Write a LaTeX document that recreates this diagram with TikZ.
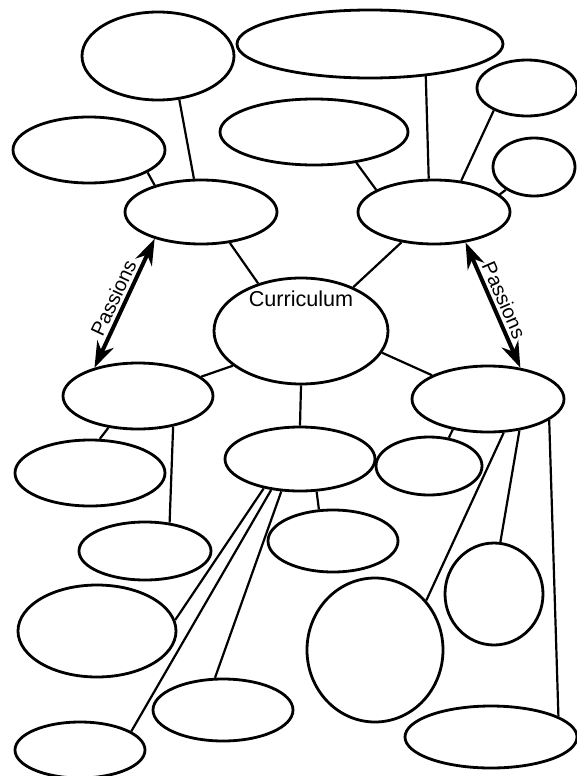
\documentclass[tikz,border=0pt]{standalone}
\usepackage{fontspec}
\setmainfont{Liberation Sans}
\usepackage{tikz}
\usetikzlibrary{shapes.geometric,arrows.meta}
\tikzset{
  bub/.style={draw,ellipse,line width=1.4pt,inner sep=0pt,fill=white},
  sz/.style 2 args={minimum width=#1*.5pt,minimum height=#2*.5pt},
  lnk/.style={line width=1.1pt},
  dbl/.style={{Stealth[length=13pt,width=9pt]}-{Stealth[length=13pt,width=9pt]},line width=2pt}
}

\begin{document}
\begin{tikzpicture}[x=.5pt,y=-.5pt]
  \useasboundingbox (0,0) rectangle (577,776);
  % top row
  \node[bub,sz={152}{88}]  (tl) at (158,56)  {};
  \node[bub,sz={266}{68}]  (tw) at (370,44)  {};
  \node[bub,sz={152}{66}]  (lw) at (89,150)  {};
  \node[bub,sz={188}{66}]  (mt) at (314,132) {};
  \node[bub,sz={100}{56}]  (rt) at (527,88)  {};
  \node[bub,sz={82}{58}]   (rs) at (534,167) {};
  % hubs
  \node[bub,sz={152}{64}]  (nw) at (201,212) {};
  \node[bub,sz={152}{64}]  (ne) at (434,212) {};
  \node[bub,sz={174}{106},
        label={[font=\fontsize{10.8}{12}\selectfont,inner sep=0pt,label distance=-15.5pt]90:Curriculum}]
        (cur) at (301,331) {};
  \node[bub,sz={150}{66}]  (sw) at (138,396) {};
  \node[bub,sz={152}{66}]  (se) at (488,399) {};
  \node[bub,sz={150}{64}]  (cs) at (300,459) {};
  % lower bubbles
  \node[bub,sz={150}{66}]  (sw1) at (90,473)  {};
  \node[bub,sz={132}{58}]  (sw2) at (145,551) {};
  \node[bub,sz={158}{92}]  (sw3) at (97,631)  {};
  \node[bub,sz={130}{56}]  (sw4) at (80,750)  {};
  \node[bub,sz={130}{62}]  (cs1) at (333,541) {};
  \node[bub,sz={140}{62}]  (cs2) at (223,710) {};
  \node[bub,sz={106}{58}]  (se1) at (429,466) {};
  \node[bub,sz={136}{144}] (se2) at (375,650) {};
  \node[bub,sz={98}{102}]  (se3) at (494,594) {};
  \node[bub,sz={172}{62}]  (se4) at (491,737) {};
  % links
  \draw[lnk] (tl.-64) -- (nw.102);  \draw[lnk] (lw.-21) -- (nw.150);
  \draw[lnk] (mt.-36) -- (ne.159);  \draw[lnk] (tw.-30) -- (ne.99);
  \draw[lnk] (rt.-146) -- (ne.49);  \draw[lnk] (rs.-141) -- (ne.15);
  \draw[lnk] (nw.-47) -- (cur.132); \draw[lnk] (ne.-137) -- (cur.40);
  \draw[lnk] (cur.-153) -- (sw.17); \draw[lnk] (cur.-15) -- (se.157);
  \draw[lnk] (cur.south) -- (cs.north);
  \draw[lnk] (sw.-133) -- (sw1.74); \draw[lnk] (sw.-41) -- (sw2.49);
  \draw[lnk] (cs.-63) -- (cs1.114); \draw[lnk] (cs.-141) -- (sw3.8);
  \draw[lnk] (cs.-133) -- (sw4.20); \draw[lnk] (cs.-120) -- (cs2.104);
  \draw[lnk] (se.-139) -- (se1.55); \draw[lnk] (se.-65) -- (se2.44);
  \draw[lnk] (se.-45) -- (se3.83);  \draw[lnk] (se.-19) -- (se4.17);
  % passions
  \draw[dbl] (sw.147) -- node[sloped,above,inner sep=1.5pt,font=\fontsize{10}{12}\selectfont] {Passions} (nw.-150);
  \draw[dbl] (ne.-44) -- node[sloped,above,inner sep=1.5pt,font=\fontsize{10}{12}\selectfont] {Passions} (se.44);
\end{tikzpicture}
\end{document}
